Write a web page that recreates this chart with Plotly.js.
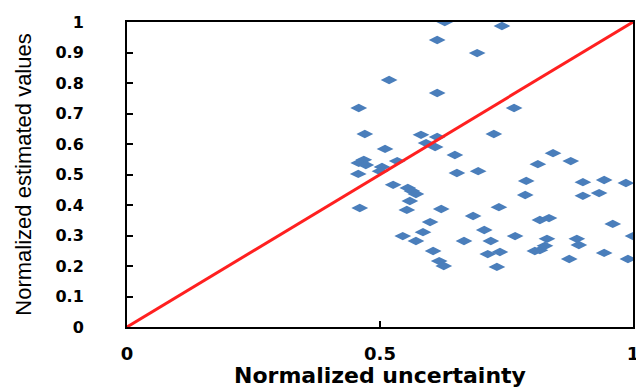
<!DOCTYPE html>
<html>
<head>
<meta charset="utf-8">
<script src="https://cdn.plot.ly/plotly-3.0.1.min.js"></script>
<style>html,body{margin:0;padding:0;background:#fff}#chart{width:636px;height:387px}</style>
</head>
<body>
<div id="chart"></div>
<script>
// Normalized uncertainty (x) and normalized estimated values (y)
var uncertainty = [0.628,0.741,0.613,0.692,0.518,0.613,0.458,0.765,0.470,0.581,0.613,0.725,0.591,0.609,0.510,0.648,0.468,0.458,0.472,0.504,0.500,0.534,0.457,0.652,0.694,0.526,0.555,0.563,0.571,0.559,0.460,0.553,0.621,0.599,0.684,0.735,0.585,0.545,0.571,0.605,0.617,0.626,0.706,0.666,0.719,0.767,0.713,0.737,0.731,0.789,0.787,0.842,0.812,0.877,0.901,0.943,0.986,0.901,0.933,0.816,0.834,0.960,0.830,0.889,0.893,1.000,0.816,0.826,0.806,0.874,0.943,0.990];
var estimated   = [1.000,0.987,0.941,0.898,0.810,0.767,0.718,0.718,0.633,0.630,0.623,0.633,0.603,0.590,0.584,0.564,0.548,0.538,0.531,0.525,0.511,0.544,0.502,0.505,0.511,0.466,0.456,0.446,0.436,0.413,0.390,0.384,0.387,0.344,0.364,0.393,0.311,0.298,0.282,0.249,0.216,0.200,0.318,0.282,0.282,0.298,0.239,0.246,0.197,0.479,0.433,0.570,0.534,0.544,0.475,0.482,0.472,0.430,0.439,0.351,0.357,0.338,0.289,0.289,0.269,0.298,0.252,0.266,0.249,0.223,0.243,0.223];
var refLineX = [0, 1];
var refLineY = [0, 1];
var xTicks = [0, 0.5, 1];
var xTickText = ['0', '0.5', '1'];
var yTicks = [0,0.1,0.2,0.3,0.4,0.5,0.6,0.7,0.8,0.9,1];
var yTickText = ['0','0.1','0.2','0.3','0.4','0.5','0.6','0.7','0.8','0.9','1'];
var xTitle = 'Normalized uncertainty';
var yTitle = 'Normalized estimated values';

function bold(arr) { return arr.map(function (t) { return '<b>' + t + '</b>'; }); }

var traces = [
  {x: uncertainty, y: estimated, type: 'scatter', mode: 'markers',
   marker: {symbol: 'diamond-wide', size: 12, color: '#4a7ebb', line: {width: 0}},
   hoverinfo: 'x+y'},
  {x: refLineX, y: refLineY, type: 'scatter', mode: 'lines',
   line: {color: '#ff2020', width: 3}, hoverinfo: 'skip'}
];
var layout = {
  width: 636, height: 387,
  margin: {l: 127, r: 3, t: 22, b: 60},
  paper_bgcolor: '#fff', plot_bgcolor: '#fff',
  showlegend: false,
  xaxis: {
    range: [0, 1], tickvals: xTicks, ticktext: bold(xTickText),
    ticks: 'inside', ticklen: 6, tickwidth: 2, tickcolor: '#000',
    showgrid: false, zeroline: false,
    showline: true, linecolor: '#000', linewidth: 2, mirror: true,
    ticklabeloverflow: 'allow',
    tickfont: {family: 'DejaVu Sans', size: 18, color: '#000'}, ticklabelstandoff: 9
  },
  yaxis: {
    range: [0, 1], tickvals: yTicks, ticktext: bold(yTickText),
    ticks: 'inside', ticklen: 6, tickwidth: 2, tickcolor: '#000',
    showgrid: false, zeroline: false,
    showline: true, linecolor: '#000', linewidth: 2, mirror: true,
    ticklabeloverflow: 'allow',
    tickfont: {family: 'DejaVu Sans', size: 16, color: '#000'}, ticklabelstandoff: 38,
    title: {text: yTitle, standoff: 18,
      font: {family: 'Liberation Sans', size: 22, color: '#000'}}
  },
  annotations: [{
    text: '<b>' + xTitle + '</b>', xref: 'paper', yref: 'paper', x: 0.5, y: 0,
    xanchor: 'center', yanchor: 'top', yshift: -34, showarrow: false,
    font: {family: 'DejaVu Sans', size: 22, color: '#000'}
  }]
};
Plotly.newPlot('chart', traces, layout, {displayModeBar: false, staticPlot: true});
</script>
</body>
</html>
